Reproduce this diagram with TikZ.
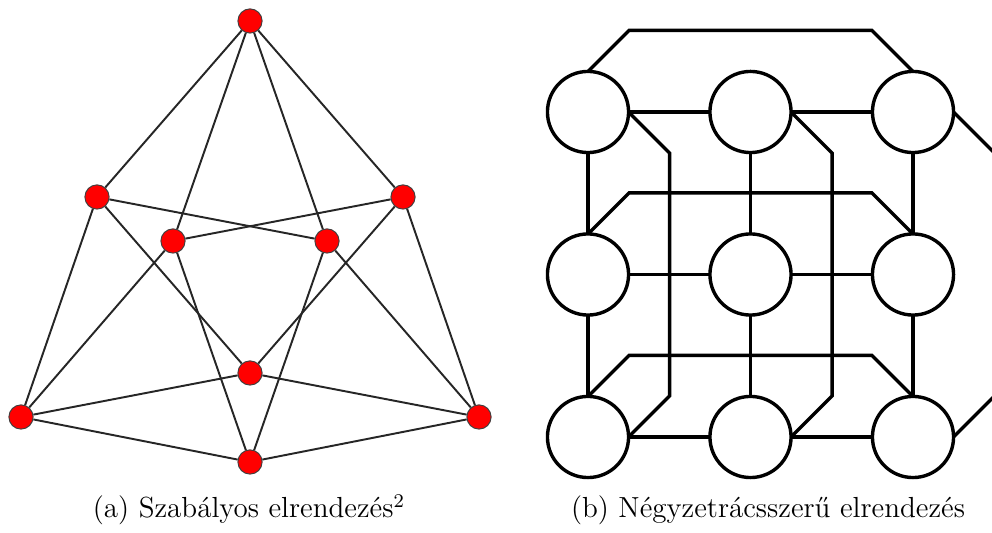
\documentclass[tikz,border=0pt]{standalone}
\usepackage{tikz}
\usetikzlibrary{calc}

\begin{document}
\begin{tikzpicture}[x=0.413pt, y=-0.413pt, font=\large,
    vertex/.style={circle, fill=red, draw=black!75, line width=0.4pt,
                   minimum size=10pt, inner sep=0pt},
    edge/.style={line width=0.8pt, black!85},
    cell/.style={circle, draw, line width=1.4pt, fill=white,
                 minimum size=33.5pt, inner sep=0pt, outer sep=0pt},
    link/.style={line width=1.4pt, line join=miter}]
    % ================= Parameters =================
    \def\G{162.5}      % Grid spacing of the mesh
    \def\D{41}         % Diagonal offset of the wrap-around links

    % Canvas (pixels of the reference)
    \path[use as bounding box] (0,0) rectangle (992,533);

    % ================= (a) Regular layout =================
    \node[vertex] (top) at (250,21) {};
    \node[vertex] (ul)  at (97,197) {};
    \node[vertex] (ur)  at (403,197) {};
    \node[vertex] (il)  at (173,241) {};
    \node[vertex] (ir)  at (327,241) {};
    \node[vertex] (mid) at (250,373) {};
    \node[vertex] (bl)  at (21,417) {};
    \node[vertex] (br)  at (479,417) {};
    \node[vertex] (bot) at (250,462) {};

    % Edges
    \foreach \a/\b in {top/ul, top/il, top/ir, top/ur,
                       ul/ir, ul/mid, ul/bl,
                       ur/il, ur/mid, ur/br,
                       il/bl, il/bot, ir/br, ir/bot,
                       mid/bl, mid/br, bl/bot, br/bot}
        \draw[edge] (\a) -- (\b);

    \node[anchor=base] (capa) at (249,518) {(a) Szabályos elrendezés$^2$};

    % ================= (b) Grid-like layout =================
    \begin{scope}
    \clip (530,0) rectangle (992,533);

    % Cells of the 3x3 mesh
    \foreach \c in {0,1,2}
        \foreach \r in {0,1,2}
            \node[cell] (n-\c-\r) at ({588+\c*\G}, {112+\r*\G}) {};

    % Neighbour links
    \foreach \r in {0,1,2} {
        \draw[link] (n-0-\r) -- (n-1-\r);
        \draw[link] (n-1-\r) -- (n-2-\r);
    }
    \foreach \c in {0,1,2} {
        \draw[link] (n-\c-0) -- (n-\c-1);
        \draw[link] (n-\c-1) -- (n-\c-2);
    }

    % Wrap-around links of the rows
    \foreach \r in {0,1,2}
        \draw[link] (n-0-\r.north) -- ++(\D,-\D)
            -- ($(n-2-\r.north)+(-\D,-\D)$) -- (n-2-\r.north);

    % Wrap-around links of the columns
    \foreach \c in {0,1,2}
        \draw[link] (n-\c-0.east) -- ++(\D,\D)
            -- ($(n-\c-2.east)+(\D,-\D)$) -- (n-\c-2.east);
    \end{scope}

    \node[anchor=base] (capb) at (768,518) {(b) Négyzetrácsszerű elrendezés};

\end{tikzpicture}
\end{document}
